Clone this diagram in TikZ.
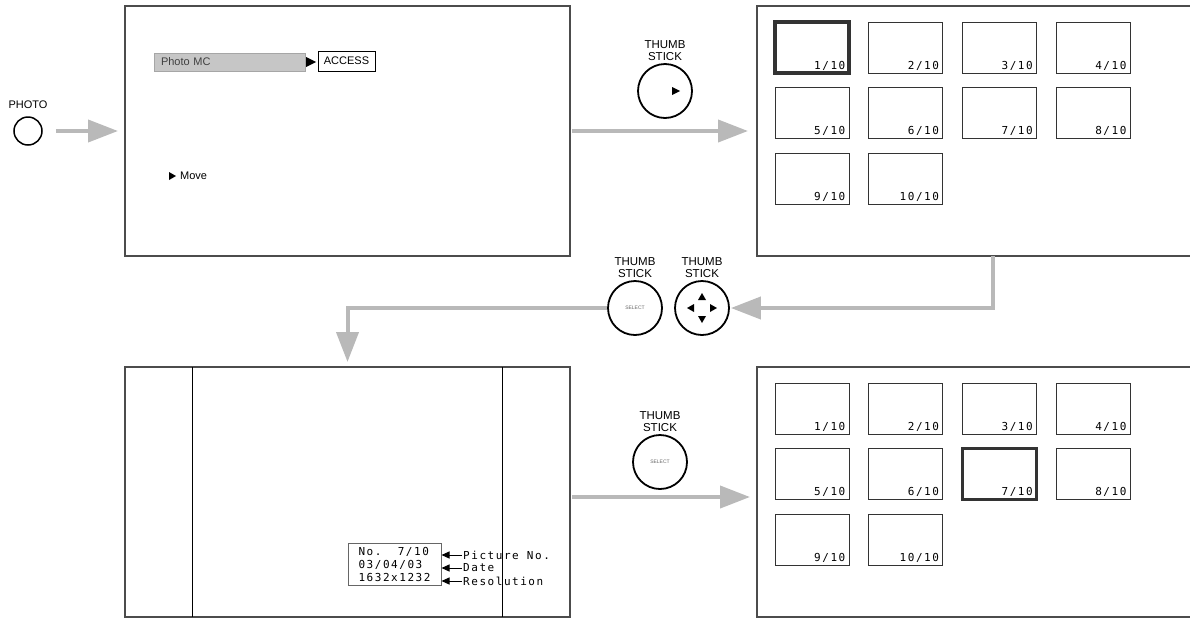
\documentclass[tikz,border=0pt]{standalone}
\usepackage{fontspec}
\setmainfont{Liberation Sans}
\newfontfamily\lcdfont[LetterSpace=14]{DejaVu Sans Mono}
\usetikzlibrary{arrows.meta, calc}

\tikzset{
  screen/.style={draw=black!70, line width=1.3pt, inner sep=0pt, outer sep=0pt, minimum width=#1, minimum height=250pt},
  thumb/.style={draw=black!80, inner sep=0pt, outer sep=0pt, minimum width=74pt, minimum height=51pt},
  thumbno/.style={anchor=south east, inner xsep=3.5pt, inner ysep=2.5pt, font=\lcdfont\fontsize{11}{12}\selectfont},
  stickcap/.style={align=center, inner sep=1pt, font=\fontsize{11.5}{12}\selectfont},
  stick/.style={circle, draw, line width=1.8pt, minimum size=54pt, inner sep=0pt, label={[stickcap, label distance=1pt]above:THUMB\\STICK}},
  selfont/.style={font=\fontsize{5}{5}\selectfont, text=black!60},
  bigarrow/.style={draw=gray!55, line width=4pt, -{Triangle[length=30pt, width=22pt]}},
  tagarrow/.style={line width=1pt, -{Triangle[length=8pt, width=7pt]}},
  tagtext/.style={anchor=west, inner sep=1pt, font=\lcdfont\fontsize{11}{12}\selectfont}
}

\begin{document}
\begin{tikzpicture}[x=1pt, y=-1pt]
  \useasboundingbox (0,0) rectangle (1190,619);
  \clip (0,0) rectangle (1190,619);

  % screens
  \node[screen=445pt] (scrmenu) at (347.5,131) {};
  \node[screen=438pt] (scrthumbA) at (976,131) {};
  \node[screen=445pt] (scrview) at (347.5,492) {};
  \node[screen=438pt] (scrthumbB) at (976,492) {};
  \draw[line width=1pt] ([xshift=67pt]scrview.north west) -- ([xshift=67pt]scrview.south west);
  \draw[line width=1pt] ([xshift=-68pt]scrview.north east) -- ([xshift=-68pt]scrview.south east);

  % photo button
  \node[circle, draw, line width=1.5pt, minimum size=28pt, inner sep=0pt,
        label={[inner sep=1pt, label distance=6pt, font=\fontsize{11}{12}\selectfont]above:PHOTO}] (photo) at (28,131) {};

  % menu screen
  \node[draw=gray!70, fill=gray!45, minimum width=151pt, minimum height=18pt, inner ysep=0pt, inner xsep=7pt,
        text width=137pt, align=left, text=black!75, font=\fontsize{11}{12}\selectfont] (mcbar) at (229.5,62) {Photo MC};
  \fill (mcbar.east) ++(1,-5) -- ++(10,5) -- ++(-10,5) -- cycle;
  \node[draw, line width=0.8pt, minimum width=57pt, minimum height=20pt, inner sep=0pt,
        font=\fontsize{11}{12}\selectfont] (access) at (346.5,61) {ACCESS};
  \node[anchor=west, inner sep=0pt, font=\fontsize{11}{12}\selectfont] (move) at (180,176) {Move};
  \fill ($(move.west)+(-4,0)$) -- ++(-7,-4) -- ++(0,8) -- cycle;

  % thumbnail screens
  \foreach \n in {1,...,10}{
    \pgfmathtruncatemacro\col{mod(\n-1,4)}
    \pgfmathtruncatemacro\row{div(\n-1,4)}
    \ifnum\n=1 \def\wa{3.5pt}\else\def\wa{0.8pt}\fi
    \ifnum\n=7 \def\wb{3.5pt}\else\def\wb{0.8pt}\fi
    \node[thumb, line width=\wa] (ta\n) at (812+93.7*\col, 47.5+65.5*\row) {};
    \node[thumbno] at (ta\n.south east) {\n/10};
    \node[thumb, line width=\wb] (tb\n) at (812+93.7*\col, 408.5+65.5*\row) {};
    \node[thumbno] at (tb\n.south east) {\n/10};
  }

  % thumb sticks
  \node[stick] (stickA) at (665,91) {};
  \fill ([xshift=15pt]stickA.center) -- ++(-8,-4) -- ++(0,8) -- cycle;
  \node[stick, selfont] (selstick) at (635,308) {SELECT};
  \node[stick] (dirstick) at (702,308) {};
  \foreach \a in {0,90,180,270}
    \fill ($(dirstick)+(\a:15)$) -- ($(dirstick)+(\a:8)+(\a+90:4)$) -- ($(dirstick)+(\a:8)+(\a-90:4)$) -- cycle;
  \node[stick, selfont] (stickB) at (660,462) {SELECT};

  % picture info
  \node[draw=black!60, line width=1pt, minimum width=93pt, minimum height=42pt, inner sep=2pt, align=left,
        font=\lcdfont\fontsize{11}{13}\selectfont] (info) at (394.5,564) {No.\ \ 7/10\\03/04/03\\1632x1232};
  \node[tagtext] (tagno) at (462,555) {Picture No.};
  \node[tagtext] (tagdate) at (462,568) {Date};
  \node[tagtext] (tagres) at (462,581) {Resolution};
  \foreach \t in {tagno,tagdate,tagres}
    \draw[tagarrow] (\t.west) -- (\t.west -| info.east);

  % flow arrows
  \draw[bigarrow, shorten <=13pt, shorten >=7pt] (photo) -- (scrmenu);
  \draw[bigarrow, shorten <=2pt, shorten >=9pt] (scrmenu) -- (scrthumbA);
  \draw[bigarrow, shorten >=1pt] ([xshift=17pt]scrthumbA.south) |- (dirstick);
  \draw[bigarrow, shorten >=5pt] (selstick) -| (scrview);
  \draw[bigarrow, shorten <=2pt, shorten >=7pt] ([yshift=-5pt]scrview.east) -- ([yshift=-5pt]scrthumbB.west);
\end{tikzpicture}
\end{document}
